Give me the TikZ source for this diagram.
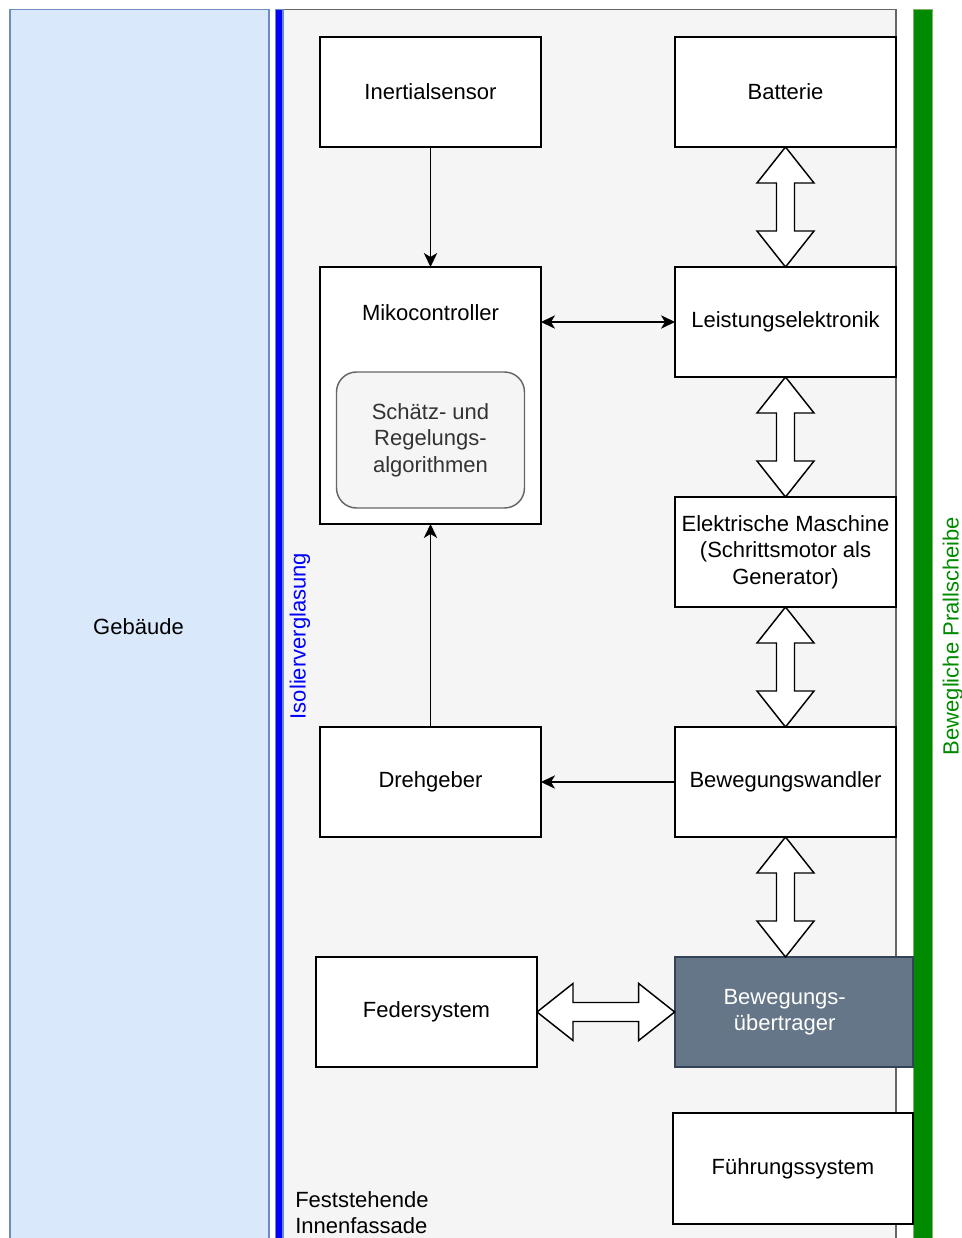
\documentclass[tikz,border=0pt]{standalone}
\usepackage{fontspec}
\setmainfont{Liberation Sans}
\usetikzlibrary{arrows.meta}

\definecolor{bldfill}{HTML}{DAE8FC}
\definecolor{bldline}{HTML}{6C8EBF}
\definecolor{facfill}{HTML}{F5F5F5}
\definecolor{facline}{HTML}{666666}
\definecolor{algtext}{HTML}{333333}
\definecolor{glassblue}{HTML}{0000FF}
\definecolor{platefill}{HTML}{008A00}
\definecolor{plateline}{HTML}{82B366}
\definecolor{transfill}{HTML}{647687}
\definecolor{transline}{HTML}{314354}

\tikzset{
  txt/.style={font=\fontsize{16.5}{19.9}\selectfont, align=center},
  block/.style={txt, draw=black, fill=white, line width=1.3pt, inner sep=0pt, outer sep=0pt,
    minimum width=165.75pt, minimum height=82.5pt},
  tip/.tip={Stealth[length=10.5pt,width=10pt,inset=3pt]},
  sig/.style={line width=1.2pt, -tip},
  sigboth/.style={line width=1.2pt, tip-tip},
  blockarrow/.style={draw=black, fill=white, line width=1.1pt, line join=miter},
}

% hollow double-headed block arrow, vertical: from top point #1 to bottom point #2
\newcommand\vblockarrow[2]{%
  \draw[blockarrow] (#1) -- ([shift={(-28.5,36)}]#1) -- ([shift={(-9,36)}]#1)
    -- ([shift={(-9,-36)}]#2) -- ([shift={(-28.5,-36)}]#2) -- (#2)
    -- ([shift={(28.5,-36)}]#2) -- ([shift={(9,-36)}]#2)
    -- ([shift={(9,36)}]#1) -- ([shift={(28.5,36)}]#1) -- cycle;}
% same, horizontal: from left point #1 to right point #2
\newcommand\hblockarrow[2]{%
  \draw[blockarrow] (#1) -- ([shift={(36,-28.5)}]#1) -- ([shift={(36,-9.5)}]#1)
    -- ([shift={(-36,-9.5)}]#2) -- ([shift={(-36,-28.5)}]#2) -- (#2)
    -- ([shift={(-36,28.5)}]#2) -- ([shift={(-36,9.5)}]#2)
    -- ([shift={(36,9.5)}]#1) -- ([shift={(36,28.5)}]#1) -- cycle;}

\begin{document}
\begin{tikzpicture}[x=0.75pt, y=-0.75pt]
\clip (0,0) rectangle (962,1238);
\fill[white] (0,0) rectangle (962,1238);

% building, inner facade, glazing and baffle plate
\draw[fill=bldfill, draw=bldline, line width=1pt] (10,9.5) rectangle (269,1260);
\draw[fill=facfill, draw=facline, line width=1pt] (283,9.5) rectangle (896,1260);
\draw[fill=glassblue, draw=bldline, line width=0.8pt] (275.5,9.5) rectangle (283,1260);
\draw[fill=platefill, draw=plateline, line width=1pt] (913.5,9.5) rectangle (932.5,1260);

\node[txt] (geb) at (138.5,627) {Gebäude};
\node[txt, text=glassblue, rotate=90] (iso) at (300,636) {Isolierverglasung};
\node[txt, text=platefill, rotate=90] (prall) at (953,636) {Bewegliche Prallscheibe};
\node[txt, align=left, anchor=north west, inner sep=0pt] (fas) at (295,1191) {Feststehende\\Innenfassade};

% components
\node[block] (ins) at (430.5,92) {Inertialsensor};
\node[block] (bat) at (785.5,92) {Batterie};
\node[block, minimum height=192.75pt] (mc) at (430.5,395.5) {};
\node[txt] (mclabel) at (430.5,313) {Mikocontroller};
\node[txt, draw=facline, fill=facfill, text=algtext, line width=1.1pt, rounded corners=15pt,
      inner sep=0pt, minimum width=141pt, minimum height=102pt] (alg) at (430.5,440)
      {Schätz- und\\Regelungs-\\algorithmen};
\node[block] (le) at (785.5,322) {Leistungselektronik};
\node[block] (em) at (785.5,552) {Elektrische Maschine\\(Schrittsmotor als\\Generator)};
\node[block] (dg) at (430.5,782) {Drehgeber};
\node[block] (bw) at (785.5,782) {Bewegungswandler};
\node[block] (fs) at (426.5,1012) {Federsystem};
\node[block, fill=transfill, draw=transline, minimum width=179pt,
      label={[txt, text=white, xshift=-7pt]center:Bewegungs-\\übertrager}] (bue) at (794,1012) {};
\node[block, minimum width=180pt, minimum height=83pt] (fu) at (793,1168.5) {Führungssystem};

% signal connections
\draw[sig] (ins.south) -- (mc.north);
\draw[sig] (dg.north) -- (mc.south);
\draw[sig] (bw.west) -- (dg.east);
\draw[sigboth] (le.west -| mc.east) -- (le.west);

% power / mechanical connections
\vblockarrow{bat.south}{le.north}
\vblockarrow{le.south}{em.north}
\vblockarrow{em.south}{bw.north}
\coordinate (buetop) at (bw.south |- bue.north);
\vblockarrow{bw.south}{buetop}
\hblockarrow{fs.east}{bue.west}
\end{tikzpicture}
\end{document}
